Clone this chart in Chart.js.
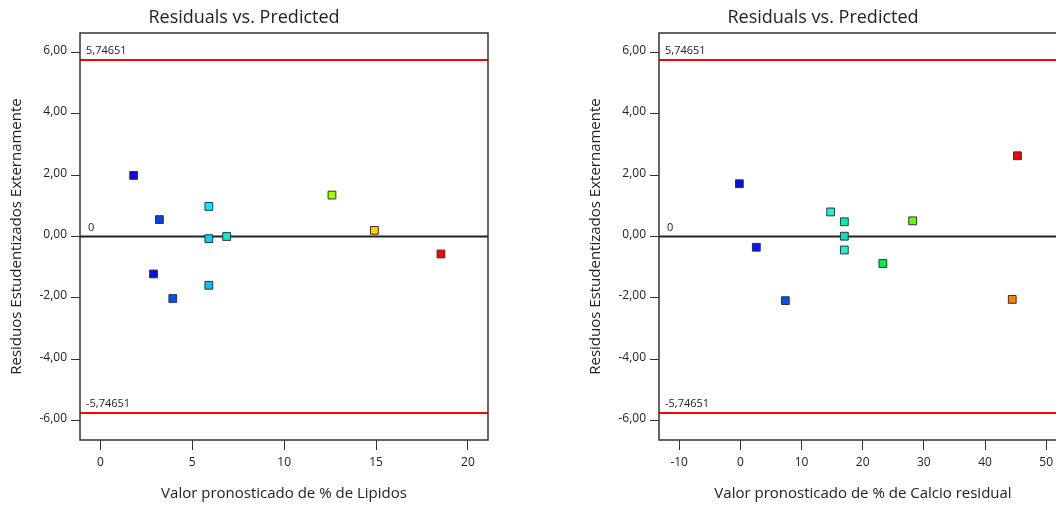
<!DOCTYPE html>
<html>
<head>
<meta charset="utf-8">
<script src="https://cdn.jsdelivr.net/npm/chart.js@4"></script>
<style>
  body { margin:0; width:1056px; height:506px; overflow:hidden; background:#fff; position:relative; }
  canvas { position:absolute; top:0; }
  #chartLip { left:0; }
  #chartCal { left:579px; }
</style>
</head>
<body>
<canvas id="chartLip" width="566" height="506"></canvas>
<canvas id="chartCal" width="566" height="506"></canvas>
<script>
// left plot: % de Lipidos
const lipPred = [1.81, 3.21, 5.90, 5.90, 6.87, 12.60, 14.91, 18.53, 2.89, 3.94, 5.90]
const lipResid = [1.99, 0.55, 0.98, -0.07, 0.00, 1.35, 0.20, -0.57, -1.22, -2.02, -1.59]
const lipColors = ['#0a0af0', '#0040ff', '#00f0ff', '#00d4ee', '#00f0d0', '#a0ff00', '#ffd000', '#ff0000', '#0010ff', '#0050ff', '#00c0ff']
const lipXTicks = [0, 5, 10, 15, 20]

// right plot: % de Calcio residual
const calPred = [-0.16, 2.61, 14.77, 17.0, 17.0, 17.0, 28.17, 45.3, 23.3, 7.35, 44.45]
const calResid = [1.72, -0.35, 0.80, 0.48, 0.01, -0.44, 0.51, 2.63, -0.88, -2.09, -2.05]
const calColors = ['#0010f0', '#0018ff', '#20f0d0', '#00f0b0', '#10e0b0', '#20f0d0', '#60ff10', '#ff0000', '#00f040', '#0050ff', '#ff8000']
const calXTicks = [-10, 0, 10, 20, 30, 40, 50]

const yTicks = [-6, -4, -2, 0, 2, 4, 6]
const limit = 5.74651

const FONT = "'Open Sans', 'Noto Sans', sans-serif"
const TXT = '#222'

const limitLabels = {
    id: 'limitLabels',
    afterDatasetsDraw(chart) {
        const {ctx, chartArea, scales} = chart
        ctx.save()
        ctx.font = `11px ${FONT}`
        ctx.fillStyle = TXT
        ctx.textBaseline = 'middle'
        ctx.textAlign = 'left'
        const x = chartArea.left + 6
        ctx.fillText(limit.toFixed(5).replace('.', ','), x, scales.y.getPixelForValue(limit) - 9)
        ctx.fillText('0', x + 2, scales.y.getPixelForValue(0) - 9)
        ctx.fillText((-limit).toFixed(5).replace('.', ','), x, scales.y.getPixelForValue(-limit) - 9)
        ctx.restore()
    },
    afterDraw(chart) {
        const {ctx, chartArea} = chart
        ctx.save()
        ctx.strokeStyle = '#333'
        ctx.lineWidth = 1.5
        ctx.strokeRect(chartArea.left, chartArea.top, chartArea.right - chartArea.left, chartArea.bottom - chartArea.top)
        ctx.restore()
    }
}

const makeChart = (id, preds, resids, colors, xMin, xMax, xTicks, xTitle) => {
    const ctx = document.getElementById(id).getContext('2d')
    const hline = (v, color) => ({
        type: 'line',
        data: [{x: xMin, y: v}, {x: xMax, y: v}],
        borderColor: color,
        borderWidth: 2,
        pointRadius: 0,
        order: 1
    })
    return new Chart(ctx, {
        type: 'scatter',
        data: {
            datasets: [{
                data: preds.map((p, i) => ({x: p, y: resids[i]})),
                pointStyle: 'rect',
                pointRadius: 5.5,
                backgroundColor: colors,
                borderColor: '#333',
                borderWidth: 1,
                order: 0
            },
            hline(limit, '#ff0000'),
            hline(0, '#222'),
            hline(-limit, '#ff0000')]
        },
        options: {
            responsive: false,
            animation: false,
            layout: { padding: { left: 0, right: 78, top: 0, bottom: 0 } },
            plugins: {
                legend: { display: false },
                tooltip: { enabled: false },
                title: {
                    display: true,
                    text: 'Residuals vs. Predicted',
                    color: TXT,
                    font: { family: FONT, size: 18, weight: 'normal' },
                    padding: { top: 7.2, bottom: 4.2 }
                }
            },
            scales: {
                x: {
                    type: 'linear',
                    min: xMin, max: xMax,
                    afterBuildTicks: s => { s.ticks = xTicks.map(v => ({value: v})) },
                    afterFit: s => { s.height = 66 },
                    grid: { drawOnChartArea: false, drawTicks: true, tickLength: 10, color: '#333' },
                    border: { display: false },
                    ticks: { color: TXT, font: { family: FONT, size: 12 }, padding: 5, maxRotation: 0 },
                    title: {
                        display: true, text: xTitle, color: TXT,
                        font: { family: FONT, size: 15 }, padding: { top: 0, bottom: 3 }
                    }
                },
                y: {
                    type: 'linear',
                    min: -6.63, max: 6.63,
                    afterBuildTicks: s => { s.ticks = yTicks.map(v => ({value: v})) },
                    afterFit: s => { s.width = 80 },
                    grid: { drawOnChartArea: false, drawTicks: true, tickLength: 9, color: '#333' },
                    border: { display: false },
                    ticks: {
                        color: TXT, font: { family: FONT, size: 12 }, padding: 4, labelOffset: -2,
                        callback: v => v.toFixed(2).replace('.', ',')
                    },
                    title: {
                        display: true, text: 'Residuos Estudentizados Externamente', color: TXT,
                        font: { family: FONT, size: 15 }, padding: { top: 8, bottom: 0 }
                    }
                }
            }
        },
        plugins: [limitLabels]
    })
}

makeChart('chartLip', lipPred, lipResid, lipColors, -1.11, 21.09, lipXTicks, 'Valor pronosticado de % de Lipidos')
makeChart('chartCal', calPred, calResid, calColors, -13.3, 53.4, calXTicks, 'Valor pronosticado de % de Calcio residual')
</script>
</body>
</html>
